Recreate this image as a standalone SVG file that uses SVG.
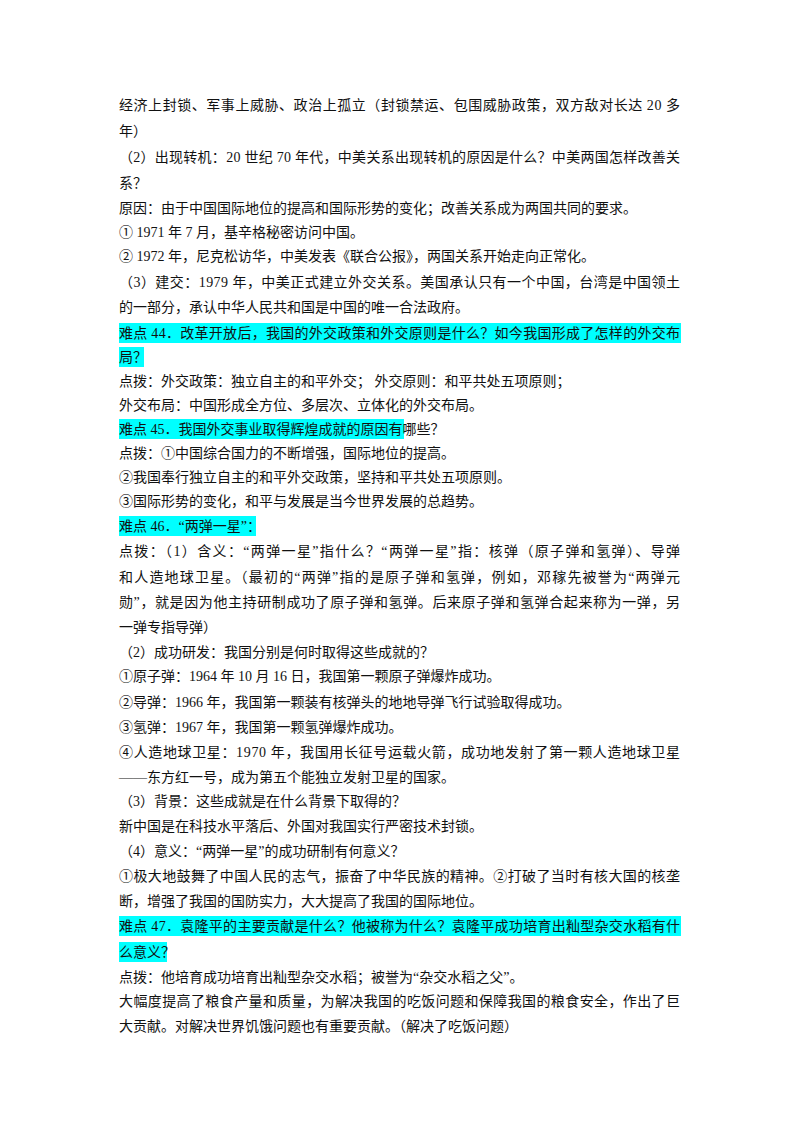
<svg xmlns="http://www.w3.org/2000/svg" width="800" height="1132" viewBox="0 0 800 1132">
<style>
text{font-family:"Liberation Serif","Noto Sans CJK SC",serif;font-size:14px;fill:#111}
.hl{fill:#00ffff}
</style>
<rect width="800" height="1132" fill="#fff"/>
<g id="highlights">
<rect class="hl" x="119" y="323" width="562" height="20"/>
<rect class="hl" x="119" y="347" width="25" height="20"/>
<rect class="hl" x="119" y="419" width="285" height="20"/>
<rect class="hl" x="119" y="516" width="137" height="20"/>
<rect class="hl" x="119" y="916" width="562" height="20"/>
<rect class="hl" x="119" y="942" width="48" height="20"/>
</g>
<g id="text">
<text x="119" y="110" textLength="561" lengthAdjust="spacing">经济上封锁、军事上威胁、政治上孤立（封锁禁运、包围威胁政策，双方敌对长达 20 多</text>
<text x="119" y="136">年）</text>
<text x="119" y="162" textLength="561" lengthAdjust="spacing">（2）出现转机：20 世纪 70 年代，中美关系出现转机的原因是什么？中美两国怎样改善关</text>
<text x="119" y="188">系？</text>
<text x="119" y="213">原因：由于中国国际地位的提高和国际形势的变化；改善关系成为两国共同的要求。</text>
<text x="119" y="237">① 1971 年 7 月，基辛格秘密访问中国。</text>
<text x="119" y="261">② 1972 年，尼克松访华，中美发表《联合公报》，两国关系开始走向正常化。</text>
<text x="119" y="287" textLength="561" lengthAdjust="spacing">（3）建交：1979 年，中美正式建立外交关系。美国承认只有一个中国，台湾是中国领土</text>
<text x="119" y="312">的一部分，承认中华人民共和国是中国的唯一合法政府。</text>
<text x="119" y="338" textLength="561" lengthAdjust="spacing">难点 44．改革开放后，我国的外交政策和外交原则是什么？如今我国形成了怎样的外交布</text>
<text x="119" y="362">局？</text>
<text x="119" y="386">点拨：外交政策：独立自主的和平外交；  外交原则：和平共处五项原则；</text>
<text x="119" y="410">外交布局：中国形成全方位、多层次、立体化的外交布局。</text>
<text x="119" y="434">难点 45．我国外交事业取得辉煌成就的原因有哪些？</text>
<text x="119" y="458">点拨：①中国综合国力的不断增强，国际地位的提高。</text>
<text x="119" y="482">②我国奉行独立自主的和平外交政策，坚持和平共处五项原则。</text>
<text x="119" y="506">③国际形势的变化，和平与发展是当今世界发展的总趋势。</text>
<text x="119" y="531">难点 46．“两弹一星”：</text>
<text x="119" y="556" textLength="561" lengthAdjust="spacing">点拨：（1）含义：“两弹一星”指什么？“两弹一星”指：核弹（原子弹和氢弹）、导弹</text>
<text x="119" y="582" textLength="561" lengthAdjust="spacing">和人造地球卫星。（最初的“两弹”指的是原子弹和氢弹，例如，邓稼先被誉为“两弹元</text>
<text x="119" y="607" textLength="561" lengthAdjust="spacing">勋”，就是因为他主持研制成功了原子弹和氢弹。后来原子弹和氢弹合起来称为一弹，另</text>
<text x="119" y="632">一弹专指导弹）</text>
<text x="119" y="657">（2）成功研发：我国分别是何时取得这些成就的？</text>
<text x="119" y="681">①原子弹：1964 年 10 月 16 日，我国第一颗原子弹爆炸成功。</text>
<text x="119" y="707">②导弹：1966 年，我国第一颗装有核弹头的地地导弹飞行试验取得成功。</text>
<text x="119" y="732">③氢弹：1967 年，我国第一颗氢弹爆炸成功。</text>
<text x="119" y="757" textLength="561" lengthAdjust="spacing">④人造地球卫星：1970 年，我国用长征号运载火箭，成功地发射了第一颗人造地球卫星</text>
<text x="119" y="782">——东方红一号，成为第五个能独立发射卫星的国家。</text>
<text x="119" y="806">（3）背景：这些成就是在什么背景下取得的？</text>
<text x="119" y="831">新中国是在科技水平落后、外国对我国实行严密技术封锁。</text>
<text x="119" y="856">（4）意义：“两弹一星”的成功研制有何意义？</text>
<text x="119" y="881" textLength="561" lengthAdjust="spacing">①极大地鼓舞了中国人民的志气，振奋了中华民族的精神。②打破了当时有核大国的核垄</text>
<text x="119" y="906">断，增强了我国的国防实力，大大提高了我国的国际地位。</text>
<text x="119" y="931" textLength="561" lengthAdjust="spacing">难点 47．袁隆平的主要贡献是什么？他被称为什么？袁隆平成功培育出籼型杂交水稻有什</text>
<text x="119" y="957">么意义？</text>
<text x="119" y="982">点拨：他培育成功培育出籼型杂交水稻；被誉为“杂交水稻之父”。</text>
<text x="119" y="1006" textLength="561" lengthAdjust="spacing">大幅度提高了粮食产量和质量，为解决我国的吃饭问题和保障我国的粮食安全，作出了巨</text>
<text x="119" y="1031">大贡献。对解决世界饥饿问题也有重要贡献。（解决了吃饭问题）</text>
</g>
</svg>
